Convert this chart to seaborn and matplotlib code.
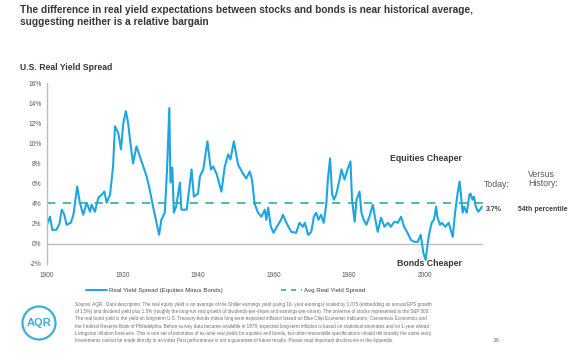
import pandas as pd
import seaborn as sns
import matplotlib.pyplot as plt
from matplotlib.lines import Line2D
from matplotlib.patches import Circle

sns.set_style("white")
plt.rcParams['font.family'] = ['Liberation Sans', 'DejaVu Sans']

# real yield spread (year, % spread)
years = [1900.0, 1900.8, 1901.4, 1902.5, 1903.3, 1903.9, 1904.5, 1905.2, 1906.3, 1907.0,
         1908.0, 1908.7, 1909.6, 1910.5, 1911.4, 1911.8, 1912.7, 1913.6, 1914.5, 1915.2,
         1915.8, 1916.7, 1917.5, 1918.0, 1918.9, 1919.6, 1920.2, 1920.9, 1921.5, 1922.0,
         1922.8, 1923.7, 1924.6, 1925.5, 1926.4, 1927.2, 1928.1, 1929.0, 1929.7, 1930.3,
         1931.2, 1931.8, 1932.4, 1932.7, 1933.2, 1933.6, 1934.2, 1935.2, 1935.6, 1937.0,
         1938.3, 1938.9, 1940.0, 1940.5, 1941.4, 1942.5, 1943.4, 1944.0, 1944.9, 1946.2,
         1947.1, 1948.0, 1948.6, 1949.5, 1950.6, 1951.9, 1952.8, 1953.7, 1954.3, 1955.0,
         1955.9, 1956.8, 1957.7, 1958.1, 1958.6, 1959.3, 1960.0, 1961.2, 1962.0, 1962.5,
         1963.4, 1964.7, 1966.0, 1966.9, 1967.8, 1968.3, 1969.2, 1970.0, 1970.7, 1971.3,
         1971.9, 1972.6, 1973.3, 1974.0, 1974.4, 1975.0, 1975.5, 1976.0, 1976.6, 1977.5,
         1978.0, 1978.8, 1979.7, 1980.4, 1980.8, 1981.5, 1982.0, 1982.8, 1983.3, 1983.9,
         1984.6, 1985.4, 1986.3, 1987.0, 1987.6, 1988.5, 1989.4, 1990.3, 1991.1, 1992.0,
         1992.9, 1993.8, 1994.6, 1995.5, 1996.4, 1997.3, 1998.2, 1999.0, 1999.7, 2000.3,
         2000.9, 2001.3, 2001.9, 2002.5, 2003.1, 2003.4, 2004.1, 2004.6, 2005.5, 2006.4,
         2007.5, 2008.1, 2008.8, 2009.3, 2009.6, 2010.1, 2010.5, 2011.2, 2011.9, 2012.2,
         2012.7, 2013.1, 2013.6, 2014.2, 2014.9, 2015.2]
spread = [1.9, 2.7, 1.4, 1.4, 2.0, 3.4, 3.0, 1.9, 2.1, 2.9,
          5.7, 4.1, 2.9, 4.1, 3.2, 3.9, 3.2, 4.6, 4.9, 5.2,
          4.1, 4.9, 7.7, 11.7, 11.0, 9.4, 12.0, 13.2, 12.0, 10.3,
          8.0, 9.7, 8.7, 7.7, 6.7, 5.4, 3.7, 2.1, 0.9, 2.4,
          3.1, 7.4, 13.5, 6.1, 7.6, 3.1, 3.7, 6.1, 3.4, 3.4,
          7.4, 4.7, 5.0, 6.7, 7.4, 10.2, 7.4, 7.7, 7.0, 5.2,
          7.7, 8.9, 8.4, 10.2, 7.9, 7.0, 6.5, 7.2, 6.4, 4.0,
          3.1, 2.7, 3.4, 2.4, 3.6, 1.7, 1.1, 1.9, 2.4, 2.9,
          2.1, 1.2, 1.1, 2.1, 1.7, 2.1, 0.9, 1.2, 2.7, 3.1,
          2.4, 2.9, 2.1, 4.0, 6.4, 8.5, 5.0, 4.4, 4.9, 6.4,
          7.4, 6.4, 7.5, 8.2, 4.4, 2.2, 4.4, 5.2, 3.1, 2.4,
          1.9, 2.7, 3.9, 2.4, 1.2, 2.6, 1.7, 2.1, 1.7, 2.2,
          2.1, 2.7, 1.7, 1.1, 0.4, 0.2, 0.2, 0.9, -0.9, -1.6,
          0.2, 1.1, 2.1, 2.4, 3.7, 2.7, 1.9, 2.1, 1.7, 2.1,
          0.7, 3.1, 5.1, 6.2, 5.1, 3.1, 3.7, 3.1, 4.9, 5.0,
          4.4, 4.7, 3.7, 3.2, 3.5, 3.7]
avg_spread = 4.1

x_ticks = [1900, 1920, 1940, 1960, 1980, 2000]
y_ticks = [-2, 0, 2, 4, 6, 8, 10, 12, 14, 16]

today_value = "3.7%"
today_pct = "54th percentile"

df = pd.DataFrame({'year': years, 'spread': spread})

W, H = 588, 356
fig = plt.figure(figsize=(W / 100, H / 100), dpi=100)
ax = fig.add_axes([47 / W, 1 - 264 / H, 436 / W, 181 / H])

blue = '#1ea6e2'
teal = '#2fae9e'
dark = '#3d3535'
grey = '#595959'

sns.lineplot(data=df, x='year', y='spread', ax=ax, color=blue, linewidth=1.5)
ax.axhline(avg_spread, color=teal, linewidth=1.2, dashes=(5, 4.5))
ax.axhline(0, color='#bdbdbd', linewidth=1.0, zorder=0)

ax.set_xlim(1900, 2015.5)
ax.set_ylim(-2, 16)
ax.set_xticks(x_ticks)
ax.set_yticks(y_ticks)
ax.set_yticklabels([f"{v}%" for v in y_ticks])
ax.tick_params(axis='both', length=0, labelsize=4.8, labelcolor=grey)
ax.tick_params(axis='y', pad=4)
ax.tick_params(axis='x', pad=6)
ax.set_xlabel("")
ax.set_ylabel("")
for s in ['top', 'right', 'bottom']:
    ax.spines[s].set_visible(False)
ax.spines['left'].set_color('#bdbdbd')
ax.spines['left'].set_linewidth(1.0)

# annotations inside the plot
ax.text(2000.5, 8.5, "Equities Cheaper", ha='center', va='center',
        fontsize=6.3, fontweight='bold', color=dark)
ax.text(2001.3, -2.0, "Bonds Cheaper", ha='center', va='center',
        fontsize=6.3, fontweight='bold', color=dark, clip_on=False)


def fx(px):
    return px / W


def fy(py):
    return 1 - py / H


# title and subtitle
fig.text(fx(20), fy(5), "The difference in real yield expectations between stocks and bonds is near historical average,\n"
         "suggesting neither is a relative bargain", ha='left', va='top',
         fontsize=7.3, fontweight='bold', color=dark, linespacing=1.3)
fig.text(fx(20), fy(67), "U.S. Real Yield Spread", ha='left', va='center',
         fontsize=6.2, fontweight='bold', color=dark)

# today vs history
fig.text(fx(497), fy(184), "Today:", ha='center', va='center', fontsize=6.3, color=grey)
fig.text(fx(528), fy(179), "Versus\nHistory:", ha='left', va='center', fontsize=6.3,
         color=grey, linespacing=1.05)
fig.text(fx(486), fy(209), today_value, ha='left', va='center', fontsize=5.0,
         fontweight='bold', color='#404040')
fig.text(fx(518), fy(209), today_pct, ha='left', va='center', fontsize=5.0,
         fontweight='bold', color='#404040')

# legend
handles = [Line2D([0], [0], color=blue, linewidth=1.4),
           Line2D([0], [0], color=teal, linewidth=1.2, dashes=(3, 3))]
fig.legend(handles, ["Real Yield Spread (Equities Minus Bonds)", "Avg Real Yield Spread"],
           loc='center left', bbox_to_anchor=(fx(80), fy(290)), ncol=2, frameon=False,
           fontsize=4.4, handlelength=3.5, handletextpad=0.3, columnspacing=9.5,
           labelcolor='#404040')

# footnote
note = ("Source: AQR.  Data description: The real equity yield is an average of the Shiller earnings yield (using 10- year earnings) scaled by 1.075 (embedding an annual EPS growth\n"
        "of 1.5%) and dividend yield plus 1.5% (roughly the long-run real growth of dividends-per-share and earnings-per-share). The universe of stocks represented is the S&P 500.\n"
        "The real bond yield is the yield on long-term U.S. Treasury bonds minus long-term expected inflation based on Blue Chip Economic Indicators, Consensus Economics and\n"
        "the Federal Reserve Bank of Philadelphia. Before survey data became available in 1978, expected long-term inflation is based on statistical estimates and on 1-year ahead\n"
        "Livingston inflation forecasts. This is one set of estimates of ex-ante real yields for equities and bonds, but other reasonable specifications should tell broadly the same story.\n"
        "Investments cannot be made directly in an index Past performance is not a guarantee of future results. Please read important disclosures in the Appendix.")
fig.text(fx(75), fy(302), note, ha='left', va='top', fontsize=3.3, color='#6e6e6e',
         linespacing=1.55)
fig.text(fx(496), fy(340), "36", ha='center', va='center', fontsize=4.6, color='#7a7a7a')

# AQR logo
logo_blue = '#3ab0da'
fig.add_artist(Circle((39 / 100, (H - 323) / 100), 0.165, transform=fig.dpi_scale_trans,
                      fill=False, edgecolor=logo_blue, linewidth=1.6))
fig.text(fx(39), fy(323), "AQR", ha='center', va='center', fontsize=8,
         fontweight='bold', color=logo_blue)

fig.savefig("out.png", dpi=100)
